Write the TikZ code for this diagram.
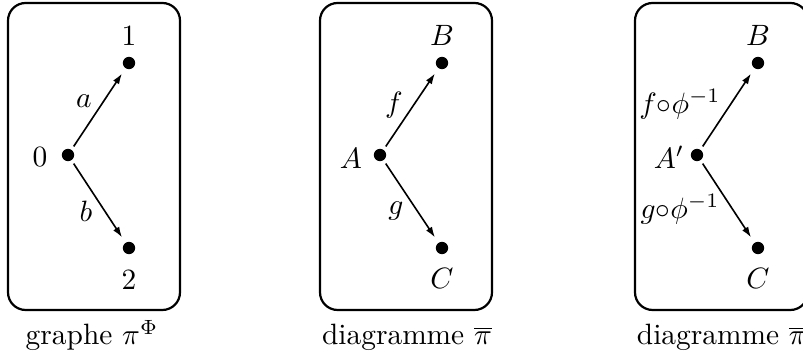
\documentclass[tikz,border=0pt]{standalone}
\usepackage{tikz}
\usetikzlibrary{arrows.meta, positioning}

\begin{document}
\begin{tikzpicture}[
    x=0.34pt, y=-0.34pt,
    frame/.style={draw, line width=0.75pt, rounded corners=6pt},
    dot/.style={circle, fill, inner sep=0pt, minimum size=4.2pt},
    vlbl/.style={inner sep=0pt},
    elbl/.style={inner sep=0pt, font=\normalsize},
    captxt/.style={anchor=base, inner sep=0pt},
    arr/.style={-{Latex[length=3.6pt, width=2.4pt]}, line width=0.55pt,
                shorten <=1.2pt, shorten >=2pt},
    >=Stealth
]
\useasboundingbox (0,0) rectangle (803,358);
%% Frames
\draw[frame] (8,3) rectangle (180,310);
\draw[frame] (320,3) rectangle (492,310);
\draw[frame] (635,3) rectangle (808,310);
%% graphe
\node[dot] (g0) at (68,155) {};
\node[dot] (g1) at (129,63) {};
\node[dot] (g2) at (129,248) {};
\node[vlbl] (g0l) at (40,157) {$0$};
\node[vlbl] (g1l) at (129,36) {$1$};
\node[vlbl] (g2l) at (129,280) {$2$};
\node[elbl] (ga) at (84,101) {$a$};
\node[elbl] (gb) at (86,211) {$b$};
\draw[arr] (g0) -- (g1);
\draw[arr] (g0) -- (g2);
\node[captxt] (gcap) at (92,345) {graphe $\pi^{\Phi}$};
%% diagramme
\node[dot] (dA) at (380,155) {};
\node[dot] (dB) at (442,63) {};
\node[dot] (dC) at (442,248) {};
\node[vlbl] (dAl) at (351,158) {$A$};
\node[vlbl] (dBl) at (442,35) {$B$};
\node[vlbl] (dCl) at (442,278) {$C$};
\node[elbl] (df) at (394,105) {$f$};
\node[elbl] (dg) at (396,211) {$g$};
\draw[arr] (dA) -- (dB);
\draw[arr] (dA) -- (dC);
\node[captxt] (dcap) at (407,345) {diagramme $\overline{\pi}$};
%% diagramme prime
\node[dot] (pA) at (697,155) {};
\node[dot] (pB) at (758,63) {};
\node[dot] (pC) at (758,248) {};
\node[vlbl] (pAl) at (669,157) {$A'$};
\node[vlbl] (pBl) at (758,35) {$B$};
\node[vlbl] (pCl) at (758,278) {$C$};
\node[elbl] (pf) at (680,104) {$f{\circ}\phi^{-1}$};
\node[elbl] (pg) at (680,209) {$g{\circ}\phi^{-1}$};
\draw[arr] (pA) -- (pB);
\draw[arr] (pA) -- (pC);
\node[captxt] (pcap) at (726,345) {diagramme $\overline{\pi}'$};
\end{tikzpicture}
\end{document}
